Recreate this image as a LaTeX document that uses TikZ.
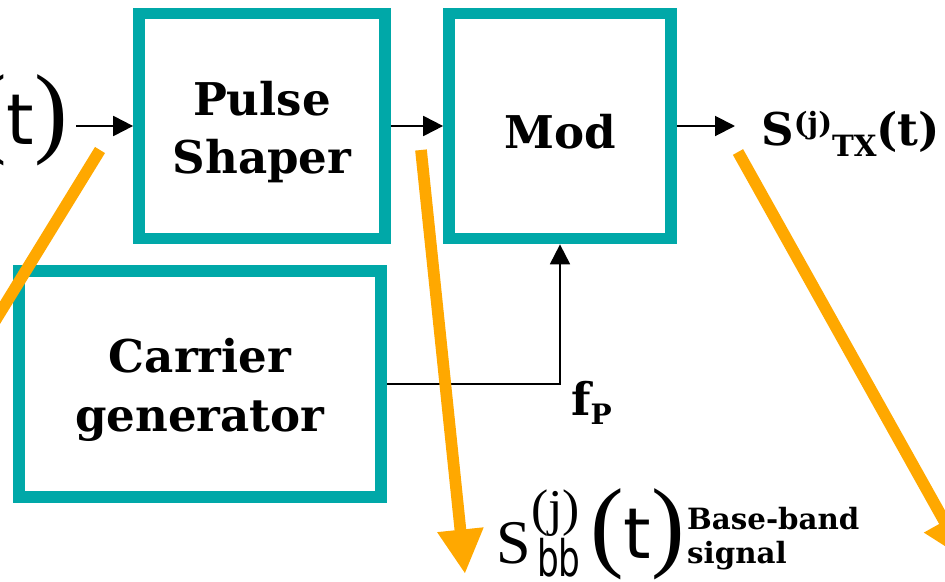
\documentclass[tikz,border=0pt]{standalone}
\usepackage{graphicx}
\usepackage{fontspec}
\setmainfont{DejaVu Serif}
\newfontfamily\eqserif{Liberation Serif}
\newfontfamily\eqsans{DejaVu Sans}
\usetikzlibrary{arrows.meta}

\definecolor{boxteal}{RGB}{0,168,168}
\definecolor{markorange}{RGB}{255,168,0}

\newcommand{\fsz}[2]{\fontsize{#1}{#2}\selectfont}
\newcommand{\bigt}{{\eqserif\fsz{86}{86}(}{\eqsans\fsz{60}{60}t}{\eqserif\fsz{86}{86})}}
\newcommand{\lowr}[1]{\raisebox{-5pt}[\height][\depth]{#1}}

\begin{document}
\begin{tikzpicture}[x=0.03cm,y=-0.03cm,>={Triangle[length=17pt,width=17pt]},
  block/.style={draw=boxteal,line width=10pt,align=center,
    font=\bfseries\fsz{38.5}{50}},
  sig/.style={line width=1.7pt,->},
  pointer/.style={draw=markorange,line width=10pt,
    -{Triangle[length=38pt,width=37pt]}},
  lbl/.style={inner sep=0pt}]
  \clip (0,0) rectangle (945,581);

  % blocks
  \node[block,minimum width=7.38cm,minimum height=6.75cm] (ps) at (262,126) {\lowr{Pulse}\\\lowr{Shaper}};
  \node[block,minimum width=6.66cm,minimum height=6.75cm] (mod) at (560,126) {\lowr{Mod}};
  \node[block,minimum width=10.88cm,minimum height=6.8cm] (cg) at (200,384) {\lowr{Carrier}\\\lowr{generator}};

  % signal labels
  \node[lbl,anchor=base east] (tin) at (68,144) {\bigt};
  \node[lbl,anchor=base west,font=\bfseries\fsz{38.5}{38.5}] (stx) at (761,145)
    {S\raisebox{10pt}{\fsz{25}{25}(j)}\raisebox{-10pt}{\fsz{25}{25}TX}(t)};
  \node[lbl,anchor=base west,font=\bfseries\fsz{38.5}{38.5}] (fp) at (571,415)
    {f\raisebox{-8.5pt}{\fsz{24}{24}P}};
  \node[lbl,anchor=base west,font=\eqserif\fsz{53}{53}] (sbb) at (496,563) {S};
  \node[lbl,anchor=base west,font=\eqserif\fsz{44}{44}] (sbbj) at (531,525) {(j)};
  \node[lbl,anchor=base west,font=\eqsans\fsz{43}{43}] (sbbsub) at (537,576) {\scalebox{0.68}[1]{bb}};
  \node[lbl,anchor=base west] (sbbt) at (590,558) {\bigt};
  \node[lbl,anchor=north west,align=left,font=\bfseries\fsz{25}{29}] (bbnote) at (687,507)
    {Base-band\\signal};

  % connectors
  \coordinate (tout) at (735,126);
  \draw[sig,shorten <=7pt] (tin.east |- ps.west) -- (ps.west);
  \draw[sig] (ps.east) -- (mod.west);
  \draw[sig] (mod.east) -- (tout);
  \draw[sig] (cg.east) -| (mod.south);

  % orange markers
  \coordinate (m1a) at (100,150);
  \coordinate (m1b) at (-80,443);
  \coordinate (m2a) at (421,150);
  \coordinate (m2b) at (465,574);
  \coordinate (m3a) at (738,152);
  \coordinate (m3b) at (966,560);
  \draw[pointer] (m1a) -- (m1b);
  \draw[pointer] (m2a) -- (m2b);
  \draw[pointer] (m3a) -- (m3b);
\end{tikzpicture}
\end{document}
